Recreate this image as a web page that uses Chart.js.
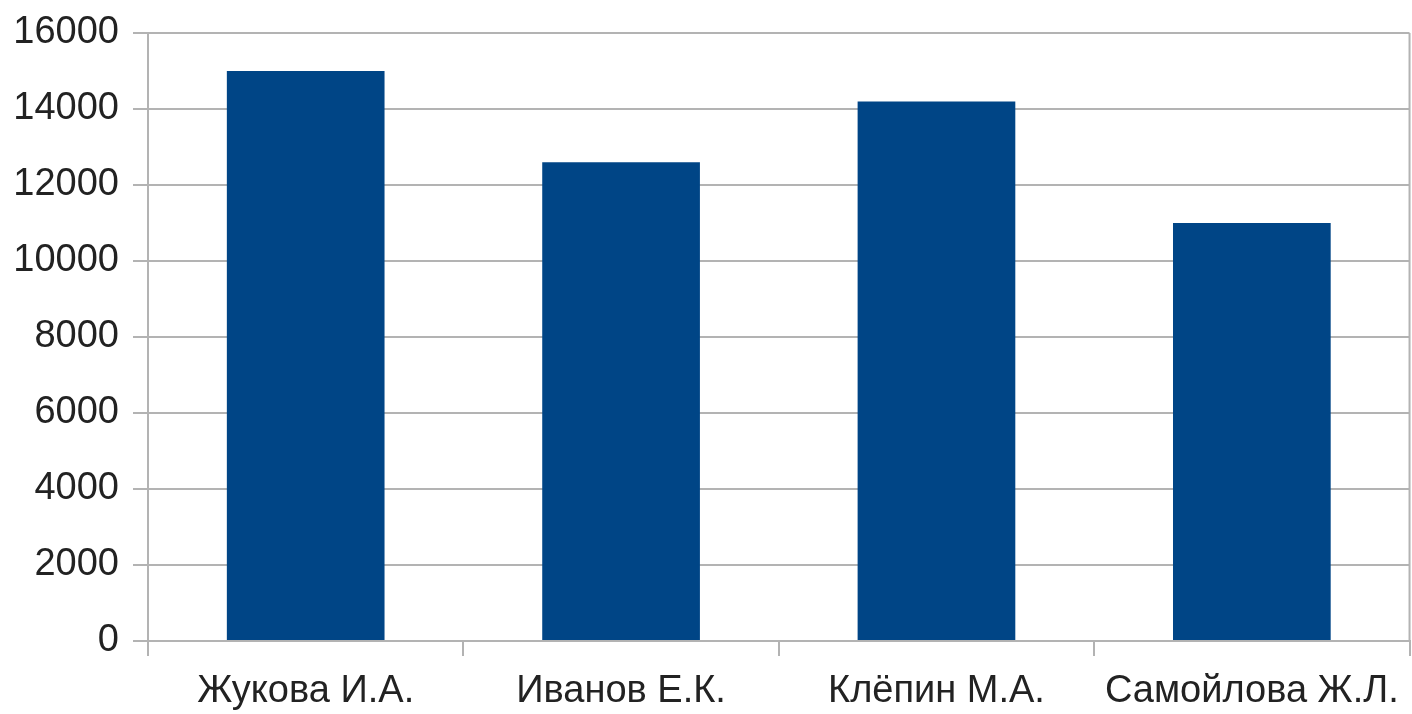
<!DOCTYPE html>
<html lang="ru">
<head>
    <meta charset="UTF-8">
    <title>Сумма по сотрудникам</title>
    <script src="https://cdn.jsdelivr.net/npm/chart.js"></script>
    <style>
        body { margin: 0; background: #fff; }
        canvas { display: block; }
    </style>
</head>
<body>
    <canvas id="salesChart" width="1412" height="714"></canvas>

    <script>
        // Employees and their totals
        const employees = ['Жукова И.А.', 'Иванов Е.К.', 'Клёпин М.А.', 'Самойлова Ж.Л.'];
        const totals = [15000, 12600, 14200, 11000];
        const yTicks = [0, 2000, 4000, 6000, 8000, 10000, 12000, 14000, 16000];

        const gridGray = '#b3b3b3';

        // right edge of the plot area is framed like the left axis
        const rightBorder = {
            id: 'rightBorder',
            afterDraw(chart) {
                const { ctx, chartArea } = chart;
                ctx.save();
                ctx.strokeStyle = gridGray;
                ctx.lineWidth = 2;
                ctx.beginPath();
                ctx.moveTo(chartArea.right, chartArea.top);
                ctx.lineTo(chartArea.right, chartArea.bottom);
                ctx.stroke();
                ctx.restore();
            }
        };

        const ctx = document.getElementById('salesChart').getContext('2d');
        new Chart(ctx, {
            type: 'bar',
            data: {
                labels: employees,
                datasets: [{
                    data: totals,
                    backgroundColor: '#004586',
                    categoryPercentage: 1.0,
                    barPercentage: 0.5
                }]
            },
            options: {
                responsive: false,
                animation: false,
                layout: { padding: { top: 33, right: 2, left: 0, bottom: 0 } },
                plugins: {
                    legend: { display: false },
                    tooltip: { enabled: false }
                },
                scales: {
                    x: {
                        afterFit: (scale) => { scale.height = 73; },
                        grid: {
                            drawOnChartArea: false,
                            drawTicks: true,
                            tickLength: 15,
                            color: gridGray,
                            lineWidth: 2
                        },
                        border: { color: gridGray, width: 2 },
                        ticks: {
                            padding: 13,
                            color: '#222',
                            font: { family: '"Liberation Sans", Arial, sans-serif', size: 38 }
                        }
                    },
                    y: {
                        min: 0,
                        max: 16000,
                        afterFit: (scale) => {
                            scale.width = 148;
                            scale.paddingTop = 0;
                            scale.paddingBottom = 0;
                        },
                        afterBuildTicks: (scale) => {
                            scale.ticks = yTicks.map(v => ({ value: v }));
                        },
                        grid: {
                            color: gridGray,
                            lineWidth: 2,
                            tickLength: 15
                        },
                        border: { color: gridGray, width: 2 },
                        ticks: {
                            padding: 14,
                            color: '#222',
                            font: { family: '"Liberation Sans", Arial, sans-serif', size: 38 },
                            callback: (v) => String(v)
                        }
                    }
                }
            },
            plugins: [rightBorder]
        });
    </script>
</body>
</html>
